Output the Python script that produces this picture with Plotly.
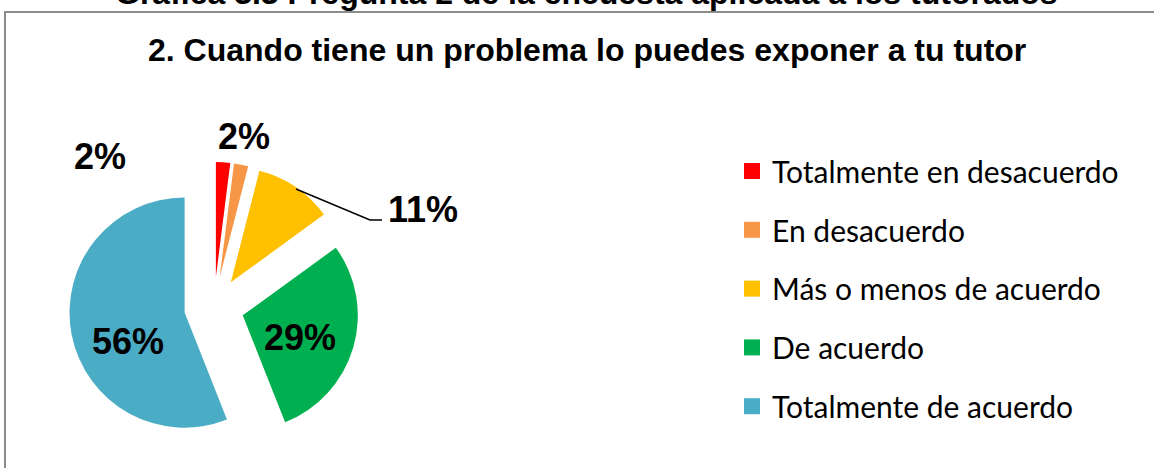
import plotly.graph_objects as go

# ---- data ----
categories = ["Totalmente en desacuerdo", "En desacuerdo", "Más o menos de acuerdo",
              "De acuerdo", "Totalmente de acuerdo"]
values = [2, 2, 11, 29, 56]
colors = ["#FF0000", "#F79646", "#FFC000", "#00B050", "#4BACC6"]
chart_title = "2. Cuando tiene un problema lo puedes exponer a tu tutor"
header_text = "Gráfica 3.3 Pregunta 2 de la encuesta aplicada a los tutorados"

W, H = 1154, 468
def px(x):
    return x / W
def py(y):
    return 1 - y / H

total = sum(values)
pct = [f"{round(v / total * 100)}%" for v in values]

fig = go.Figure()
fig.add_trace(go.Pie(
    labels=categories, values=values, sort=False, direction="clockwise", rotation=0,
    marker=dict(colors=colors, line=dict(width=0)),
    pull=[0.26] * 5,
    textposition="none",
    domain=dict(x=[px(69), px(359)], y=[py(452), py(162)]),
    showlegend=False, hoverinfo="label+percent",
))

# legend entries (dummy traces so spacing and marker size follow the reference)
for i, (c, col) in enumerate(zip(categories, colors)):
    fig.add_trace(go.Scatter(
        x=[None], y=[None], mode="markers", name=c, legendgroup=f"g{i}",
        marker=dict(symbol="square", size=16, color=col), showlegend=True,
    ))

# percentage labels (text from the data)
label_pos = [(100, 157), (244, 136), (423, 210), (300, 337), (128, 341)]
annotations = []
for i, (x, y) in enumerate(label_pos):
    annotations.append(dict(
        x=px(x), y=py(y), xref="paper", yref="paper", text=pct[i], showarrow=False,
        font=dict(family="Liberation Sans", size=36, color="black", weight="bold"),
        xanchor="center", yanchor="middle",
    ))
annotations.append(dict(
    x=px(587), y=py(50), xref="paper", yref="paper", text=chart_title, showarrow=False,
    font=dict(family="Liberation Sans", size=32, color="black", weight="bold"),
    xanchor="center", yanchor="middle",
))
annotations.append(dict(
    x=px(586.5), y=py(-7), xref="paper", yref="paper", text=header_text, showarrow=False,
    font=dict(family="Liberation Sans", size=32, color="black", weight="bold"),
    xanchor="center", yanchor="middle",
))

shapes = [
    dict(type="rect", xref="paper", yref="paper", x0=px(5), x1=px(1170), y0=py(500), y1=py(12),
         line=dict(color="#8C8C8C", width=2), fillcolor="rgba(0,0,0,0)", layer="below"),
    dict(type="path", xref="paper", yref="paper",
         path=f"M {px(296)} {py(189)} L {px(370)} {py(220)} L {px(382)} {py(220)}",
         line=dict(color="black", width=1.5)),
]

fig.update_layout(
    width=W, height=H, margin=dict(l=0, r=0, t=0, b=0),
    paper_bgcolor="white", plot_bgcolor="white",
    xaxis=dict(visible=False), yaxis=dict(visible=False),
    legend=dict(
        x=px(732), y=py(145), xanchor="left", yanchor="top",
        font=dict(family="Lato", size=30, color="black"),
        traceorder="grouped", tracegroupgap=16.8, itemsizing="trace",
        bgcolor="rgba(0,0,0,0)",
    ),
    annotations=annotations, shapes=shapes,
)

fig.write_html(
    "out.html",
    config={"displayModeBar": False},
    post_script="document.body.style.margin='0';document.body.style.overflow='hidden';",
)
